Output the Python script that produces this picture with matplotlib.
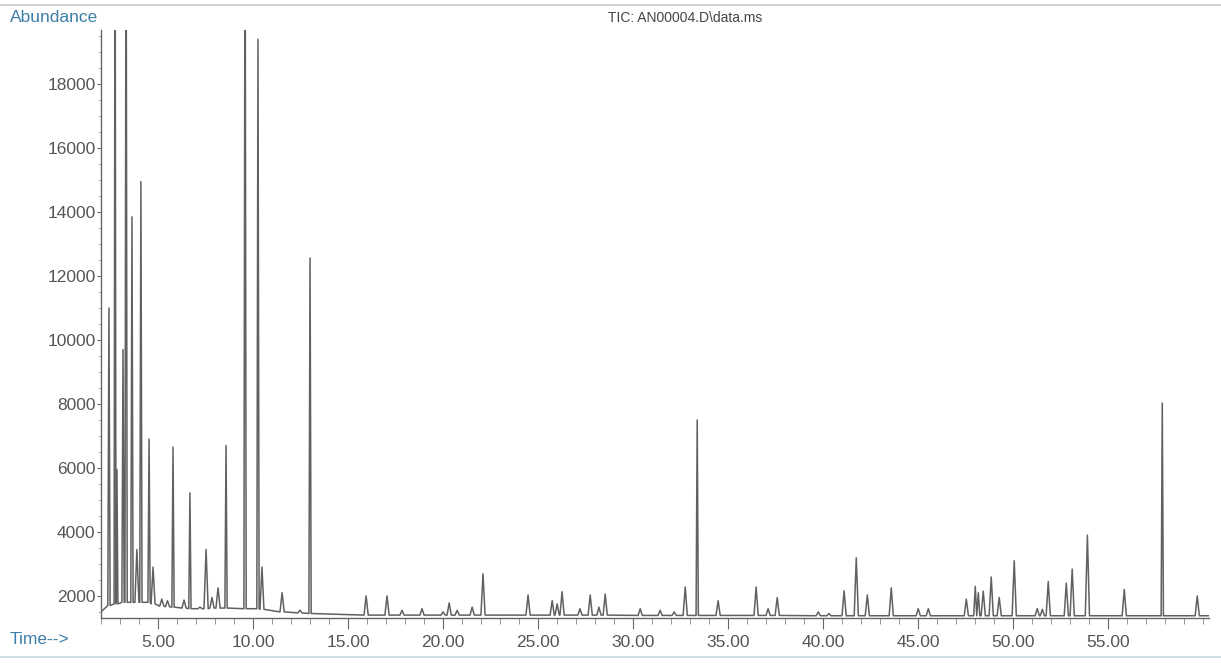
import numpy as np
import matplotlib.pyplot as plt
from matplotlib.ticker import MultipleLocator, FormatStrFormatter

# Peaks: retention time (min), apex abundance, baseline at the foot
peak_rt = [2.42, 2.74, 2.84, 3.16, 3.32, 3.63, 3.89, 4.10, 4.53, 4.74,
           5.20, 5.50, 5.79, 6.37, 6.68, 7.21, 7.53, 7.84, 8.16, 8.58,
           9.58, 10.26, 10.47, 11.53, 12.47, 13.00,
           15.95, 17.05, 17.84, 18.89, 20.00, 20.32, 20.74, 21.53, 22.10,
           24.47, 25.74, 26.00, 26.26, 27.20, 27.74, 28.20, 28.53,
           30.37, 31.42, 32.16, 32.74, 33.37, 34.47, 36.47, 37.10, 37.58,
           39.74, 40.30, 41.10, 41.74, 42.32, 43.58, 45.00, 45.53,
           47.53, 48.00, 48.16, 48.42, 48.84, 49.26, 50.05,
           51.26, 51.53, 51.84, 52.79, 53.10, 53.90, 55.84, 57.84, 59.68]
peak_top = [11000, 25000, 5950, 9700, 25000, 13850, 3450, 14950, 6900, 2900,
            1900, 1850, 6650, 1870, 5220, 1650, 3450, 1950, 2250, 6700,
            25000, 19400, 2900, 2100, 1550, 12560,
            2000, 2000, 1550, 1600, 1500, 1780, 1550, 1650, 2690,
            2030, 1850, 1750, 2130, 1600, 2030, 1650, 2060,
            1600, 1550, 1500, 2280, 7500, 1850, 2280, 1600, 1950,
            1500, 1450, 2160, 3190, 2030, 2250, 1600, 1600,
            1900, 2300, 2100, 2150, 2590, 1950, 3100,
            1600, 1580, 2450, 2400, 2840, 3900, 2200, 8030, 2000]
peak_foot = [1700, 1750, 1750, 1800, 1800, 1800, 1800, 1800, 1800, 1750,
             1680, 1660, 1650, 1620, 1600, 1600, 1600, 1620, 1620, 1620,
             1600, 1600, 1580, 1500, 1470, 1450,
             1400, 1400, 1400, 1400, 1400, 1400, 1400, 1400, 1400,
             1400, 1400, 1400, 1400, 1400, 1400, 1400, 1400,
             1390, 1390, 1390, 1390, 1390, 1390, 1390, 1390, 1390,
             1380, 1380, 1380, 1380, 1380, 1380, 1380, 1380,
             1380, 1380, 1380, 1380, 1380, 1380, 1380,
             1380, 1380, 1380, 1380, 1380, 1380, 1380, 1380, 1380]

run_start, run_end = 2.0, 60.3
start_level, end_level = 1500, 1380

x_ticks = [5, 10, 15, 20, 25, 30, 35, 40, 45, 50, 55]
y_ticks = [2000, 4000, 6000, 8000, 10000, 12000, 14000, 16000, 18000]

# build the trace outline: each peak is foot - apex - foot
rt = np.array(peak_rt)
gaps = np.diff(np.concatenate([[rt[0] - 1], rt, [rt[-1] + 1]]))
room = np.minimum(gaps[:-1], gaps[1:]) / 2

tx = [run_start]
ty = [start_level]
for i, (r, top, foot) in enumerate(zip(peak_rt, peak_top, peak_foot)):
    hw = 0.06 if top > 5000 else 0.11
    hw = min(hw, room[i])
    tx += [r - hw, r, r + hw]
    ty += [foot, top, foot]
tx.append(run_end)
ty.append(end_level)

fig = plt.figure(figsize=(12.21, 6.63), dpi=100)
ax = fig.add_axes([0.0827, 0.0679, 0.9075, 0.8869])

ax.plot(tx, ty, color='#616161', lw=1.1)

ax.set_xlim(run_start, run_end)
ax.set_ylim(1310, 19690)

ax.set_xticks(x_ticks)
ax.xaxis.set_major_formatter(FormatStrFormatter('%.2f'))
ax.xaxis.set_minor_locator(MultipleLocator(1))
ax.set_yticks(y_ticks)
ax.yaxis.set_minor_locator(MultipleLocator(500))

ax.spines['top'].set_visible(False)
ax.spines['right'].set_visible(False)
for s in ['left', 'bottom']:
    ax.spines[s].set_color('#666666')
    ax.spines[s].set_linewidth(1.0)

ax.tick_params(axis='x', which='major', length=8, pad=4, colors='#666666',
               labelcolor='#555555', labelsize=12.5)
ax.tick_params(axis='x', which='minor', length=4, colors='#888888')
ax.tick_params(axis='y', which='major', length=3, pad=1, colors='#666666',
               labelcolor='#555555', labelsize=12.5)
ax.tick_params(axis='y', which='minor', length=2, colors='#999999')
for lab in ax.get_xticklabels() + ax.get_yticklabels():
    lab.set_family('Liberation Sans')

fig.text(0.008, 0.974, 'Abundance', color='#3b7fa8', fontsize=12.5,
         family='Liberation Sans', ha='left', va='center')
fig.text(0.561, 0.973, 'TIC: AN00004.D\\data.ms', color='#444444', fontsize=10,
         family='Liberation Sans', ha='center', va='center')
fig.text(0.008, 0.035, 'Time-->', color='#3b7fa8', fontsize=12.5,
         family='Liberation Sans', ha='left', va='center')

# faint scan border at top and bottom
fig.add_artist(plt.Line2D([0, 1], [0.993, 0.993], color='#cccccc', lw=1.2))
fig.add_artist(plt.Line2D([0, 1], [0.009, 0.009], color='#c8d8e0', lw=1.2))

fig.savefig('out.png', dpi=100)
